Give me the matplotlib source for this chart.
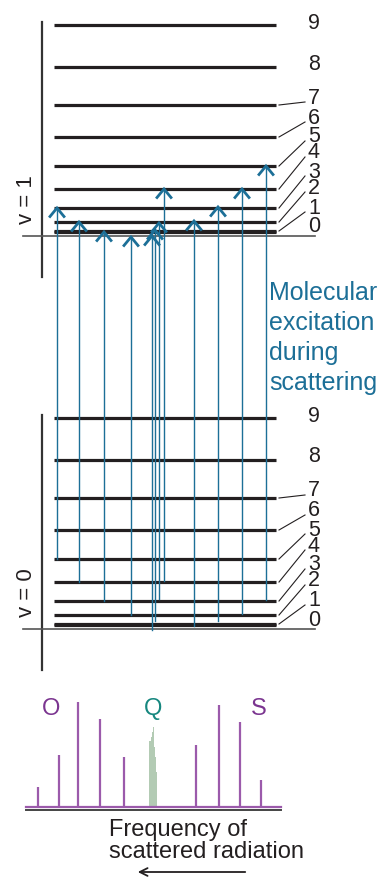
import numpy as np
import matplotlib.pyplot as plt

plt.rcParams['font.family'] = ['Liberation Sans', 'DejaVu Sans']

# rotational levels J = 0..9, height above the vibrational baseline
j_levels = list(range(10))
level_h = [4, 5, 14, 28, 47, 70, 99, 131, 169, 211]
label_h = [10, 29, 49, 65, 84, 100, 119, 139, 173, 214]
leader_j = [1, 2, 3, 4, 5, 6, 7]
v_base = {0: 248, 1: 641}

# Raman transitions: x position, start height (v=0), end height (v=1)
arrow_x = [57, 79, 104, 131, 152, 155, 159, 164, 194, 218, 242, 266]
arrow_lo = [70, 47, 28, 14, -1, 8, 30, 48, 3, 8, 15, 29]
arrow_hi = [28, 14, 4, -1, 0, 6, 13, 47, 15, 29, 47, 70]

# spectrum (O and S lines, Q band)
spec_x = [38, 59, 78, 100, 124, 196, 219, 240, 261]
spec_h = [20, 52, 105, 88, 50, 62, 102, 85, 27]
q_x = [148.6, 148.8, 150, 151, 152, 153, 154, 155, 156, 157, 157.3]
q_h = [0, 53, 66, 70, 75, 80, 60, 50, 35, 20, 0]
spec_base = 70

dark = '#231f20'
blue = '#1c6f97'
purple = '#7b3590'
purple_line = '#9b5aab'
teal = '#16877f'

fig = plt.figure(figsize=(3.78, 8.78), dpi=100)
ax = fig.add_axes([0, 0, 1, 1])
ax.set_xlim(0, 378)
ax.set_ylim(0, 878)
ax.axis('off')

for v, base in v_base.items():
    # axes of each vibrational manifold
    ax.plot([42, 42], [base - 41, base + 214], color='#333333', lw=1.6)
    ax.plot([23, 315], [base, base], color='#555555', lw=1.2)
    for j in j_levels:
        y = base + level_h[j]
        ax.plot([54, 276], [y, y], color=dark, lw=2.3, solid_capstyle='butt')
        ax.text(314, base + label_h[j], str(j), ha='center', va='center',
                fontsize=15.5, color=dark)
    for j in leader_j:
        ax.plot([279, 305], [base + level_h[j], base + label_h[j] - 5],
                color=dark, lw=0.8)
    ax.text(27, base + 37, f'v = {v}', rotation=90, ha='center', va='center',
            fontsize=16, color=dark)

for x, lo, hi in zip(arrow_x, arrow_lo, arrow_hi):
    y0 = v_base[0] + lo
    y1 = v_base[1] + hi
    ax.plot([x, x], [y0, y1], color=blue, lw=1.0, zorder=3)
    ax.plot([x - 7, x, x + 7], [y1 - 8.5, y1, y1 - 8.5], color=blue, lw=2.0,
            zorder=3, solid_joinstyle='miter')

ax.text(269, 540, 'Molecular\nexcitation\nduring\nscattering', ha='left',
        va='center', fontsize=18, color=blue, linespacing=1.32)

# spectrum
ax.plot([26, 281], [spec_base - 3, spec_base - 3], color='#444444', lw=1.4)
ax.plot([26, 281], [spec_base, spec_base], color=purple_line, lw=1.6)
ax.vlines(spec_x, spec_base, [spec_base + h for h in spec_h],
          color=purple_line, lw=1.6)
ax.fill_between(q_x, spec_base, [spec_base + h for h in q_h],
                color='#b3cbb4', lw=0, step='mid')
ax.text(51, 169, 'O', ha='center', va='center', fontsize=17, color=purple)
ax.text(153, 169, 'Q', ha='center', va='center', fontsize=17, color=teal)
ax.text(259, 169, 'S', ha='center', va='center', fontsize=17, color=purple)

ax.text(109, 37, 'Frequency of\nscattered radiation', ha='left', va='center',
        fontsize=17, color=dark, linespacing=1.0)
ax.annotate('', xy=(135, 5), xytext=(248, 5),
            arrowprops=dict(arrowstyle='->', color=dark, lw=1.3,
                            mutation_scale=14))

fig.savefig('out.png', dpi=100)
